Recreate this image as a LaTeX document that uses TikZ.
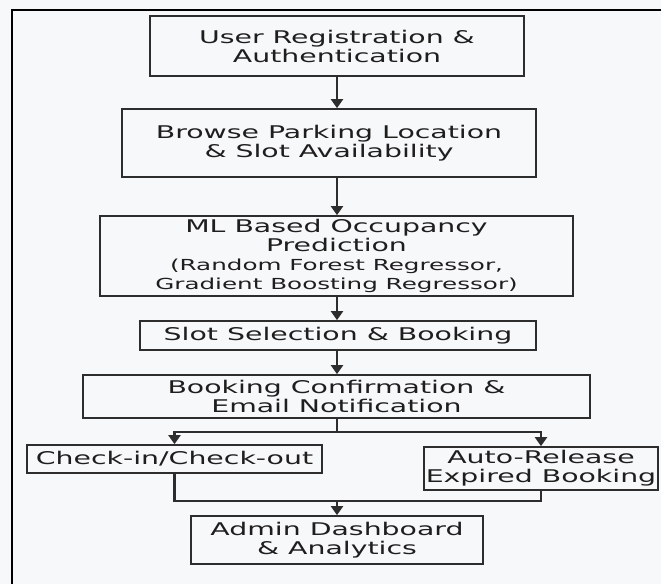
\documentclass[tikz,border=0pt]{standalone}
\usepackage{fontspec}
\usetikzlibrary{arrows.meta}
\newfontfamily\mainfam[FakeStretch=1.62]{DejaVu Sans}
\newcommand{\mainf}{\mainfam\fontsize{17.5}{19}\selectfont}
\newcommand{\smallf}{\mainfam\fontsize{15.2}{17.5}\selectfont}
\definecolor{bgc}{RGB}{247,248,249}
\definecolor{edge}{RGB}{45,45,45}
\definecolor{txt}{RGB}{30,30,30}
\tikzset{
  stepbox/.style={draw=edge, line width=1.7pt, inner sep=0pt, align=center,
    font=\mainf, text=txt},
  arr/.style={draw=edge, line width=2.1pt, -{Triangle[width=12pt,length=9pt]}},
  link/.style={draw=edge, line width=2.1pt}
}
\begin{document}
\begin{tikzpicture}[x=1pt,y=-1pt]
\fill[bgc] (0,0) rectangle (661,584);
\useasboundingbox (0,0) rectangle (661,584);
\draw[black, line width=2.6pt] (12,584) -- (12,10) -- (661,10);

\node[stepbox, minimum width=374pt, minimum height=60pt] (b1) at (337,46)
  {User Registration \&\\Authentication};
\node[stepbox, minimum width=414pt, minimum height=68pt] (b2) at (329,143)
  {Browse Parking Location\\\& Slot Availability};
\node[stepbox, minimum width=473pt, minimum height=80pt] (b3) at (336.5,256)
  {ML Based Occupancy\\Prediction\\{\smallf(Random Forest Regressor,}\\{\smallf Gradient Boosting Regressor)}};
\node[stepbox, minimum width=396pt, minimum height=29pt] (b4) at (338,335.5)
  {Slot Selection \& Booking};
\node[stepbox, minimum width=507pt, minimum height=43pt] (b5) at (336.5,396.5)
  {Booking Confirmation \&\\Email Notification};
\node[stepbox, minimum width=295pt, minimum height=28pt] (b6) at (174.5,459)
  {Check-in/Check-out};
\node[stepbox, minimum width=234pt, minimum height=43pt] (b7) at (541,468.5)
  {Auto-Release\\Expired Booking};
\node[stepbox, minimum width=292pt, minimum height=48pt] (b8) at (337,540)
  {Admin Dashboard\\\& Analytics};

\coordinate (j1) at (337,432);
\coordinate (j2) at (337,501);

\draw[arr] (b1.south) -- (b1.south |- b2.north);
\draw[arr] (b1.south |- b2.south) -- (b1.south |- b3.north);
\draw[arr] (b1.south |- b3.south) -- (b1.south |- b4.north);
\draw[arr] (b1.south |- b4.south) -- (b1.south |- b5.north);
\draw[link] (b1.south |- b5.south) -- (j1);
\draw[arr] (j1) -| (b6.north);
\draw[arr] (j1) -| (b7.north);
\draw[link] (b6.south) |- (j2);
\draw[link] (b7.south) |- (j2);
\draw[arr] (j2) -- (j2 |- b8.north);
\end{tikzpicture}
\end{document}
